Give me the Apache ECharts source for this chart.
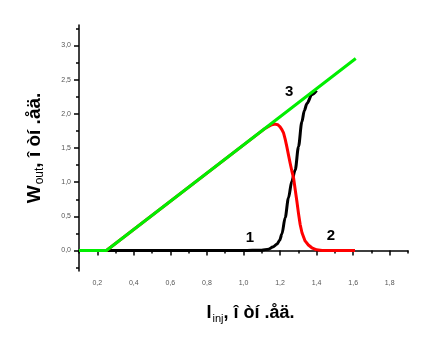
<!DOCTYPE html>
<html lang="en">
<head>
    <meta charset="UTF-8">
    <title>W_out vs I_inj</title>
    <script src="https://cdn.jsdelivr.net/npm/echarts@6/dist/echarts.min.js"></script>
    <style>
        body { margin: 0; background: #fff; }
    </style>
</head>
<body>
    <div id="main" style="width:432px;height:352px;"></div>
<script type="text/javascript">
    // curve 1 (black), curve 2 (red), curve 3 (green)
    var curve1 = [[0.1, 0], [1.0, 0], [1.1, 0.005], [1.137, 0.02], [1.16, 0.05], [1.182, 0.09],
        [1.198, 0.15], [1.21, 0.24], [1.228, 0.48], [1.246, 0.77], [1.264, 1.01], [1.283, 1.18],
        [1.301, 1.52], [1.319, 1.88], [1.333, 2.05], [1.347, 2.15], [1.374, 2.28], [1.40, 2.34]];
    var curve2 = [[0.1, 0], [0.25, 0], [1.12, 1.79], [1.14, 1.82], [1.155, 1.84], [1.173, 1.85],
        [1.188, 1.84], [1.2, 1.81], [1.21, 1.77], [1.219, 1.72], [1.228, 1.63], [1.237, 1.52],
        [1.246, 1.40], [1.255, 1.28], [1.264, 1.17], [1.274, 1.06], [1.283, 0.89], [1.292, 0.72],
        [1.301, 0.54], [1.31, 0.38], [1.32, 0.26], [1.337, 0.14], [1.355, 0.08], [1.374, 0.04],
        [1.4, 0.01], [1.43, 0], [1.61, 0]];
    var curve3 = [[0.1, 0], [0.25, 0], [1.614, 2.81]];

    // curve numbers and where they sit
    var curveTags = ['1', '2', '3'];
    var tagPos = [[1.035, 0.19], [1.478, 0.21], [1.25, 2.32]];

    var xMajor = [0.2, 0.4, 0.6, 0.8, 1.0, 1.2, 1.4, 1.6, 1.8];
    var xMinor = [0.1, 0.3, 0.5, 0.7, 0.9, 1.1, 1.3, 1.5, 1.7, 1.9];
    var yMajor = [0.0, 0.5, 1.0, 1.5, 2.0, 2.5, 3.0];
    var yMinor = [-0.25, 0.25, 0.75, 1.25, 1.75, 2.25, 2.75, 3.25];

    function comma(v) {
        return v.toFixed(1).replace('.', ',');
    }

    var myChart = echarts.init(document.getElementById('main'));

    var tickLabel = { fontSize: 7, color: '#555', fontFamily: 'Liberation Sans, Arial, sans-serif' };
    var nameFont = 'Liberation Sans, Arial, sans-serif';

    var option = {
        animation: false,
        grid: { left: 79, right: 24, top: 25, bottom: 81 },
        xAxis: [
            {
                type: 'value', min: 0.1, max: 1.9,
                axisLine: { lineStyle: { color: '#000', width: 1.5 } },
                axisTick: { customValues: xMajor, length: 5, lineStyle: { color: '#000', width: 1.5 } },
                axisLabel: Object.assign({ customValues: xMajor, margin: 9, formatter: comma }, tickLabel),
                splitLine: { show: false },
                name: '{b|I}{s|inj}{b|, î òí .åä.}',
                nameLocation: 'middle',
                nameGap: 32,
                nameTextStyle: {
                    padding: [0, 0, 0, 14],
                    rich: {
                        b: { fontSize: 18, fontWeight: 'bold', color: '#000', fontFamily: nameFont },
                        s: { fontSize: 11, color: '#000', fontFamily: nameFont, padding: [10, 0, 0, 1] }
                    }
                }
            },
            {
                type: 'value', min: 0.1, max: 1.9, position: 'bottom',
                axisLine: { show: false },
                axisTick: { customValues: xMinor, length: 3, lineStyle: { color: '#000', width: 1.5 } },
                axisLabel: { show: false },
                splitLine: { show: false }
            }
        ],
        yAxis: [
            {
                type: 'value', min: -0.3, max: 3.3,
                axisLine: { show: true, lineStyle: { color: '#000', width: 1.5 } },
                axisTick: { show: true, customValues: yMajor, length: 5, lineStyle: { color: '#000', width: 1.5 } },
                axisLabel: Object.assign({ customValues: yMajor, margin: 8, formatter: comma }, tickLabel),
                splitLine: { show: false },
                name: '{b|W}{s|out}{b|, î òí .åä.}',
                nameLocation: 'middle',
                nameGap: 33,
                nameRotate: 90,
                nameTextStyle: {
                    rich: {
                        b: { fontSize: 19, fontWeight: 'bold', color: '#000', fontFamily: nameFont },
                        s: { fontSize: 12, color: '#000', fontFamily: nameFont, padding: [11, 0, 0, 1] }
                    }
                }
            },
            {
                type: 'value', min: -0.3, max: 3.3, position: 'left',
                axisLine: { show: false },
                axisTick: { show: true, customValues: yMinor, length: 3, lineStyle: { color: '#000', width: 1.5 } },
                axisLabel: { show: false },
                splitLine: { show: false }
            }
        ],
        series: [
            {
                name: '1', type: 'line', data: curve1, showSymbol: false,
                smooth: 0.3, smoothMonotone: 'x',
                lineStyle: { color: '#000', width: 3 },
                markPoint: {
                    symbol: 'circle', symbolSize: 0,
                    label: { show: true, color: '#000', fontSize: 15, fontWeight: 'bold', fontFamily: nameFont, formatter: function (p) { return p.name; } },
                    data: curveTags.map(function (t, i) { return { name: t, coord: tagPos[i] }; })
                }
            },
            {
                name: '2', type: 'line', data: curve2, showSymbol: false,
                lineStyle: { color: '#ff0000', width: 3, join: 'round' }
            },
            {
                name: '3', type: 'line', data: curve3, showSymbol: false,
                lineStyle: { color: '#00ee00', width: 3 }
            }
        ]
    };

    myChart.setOption(option);
</script>
</body>
</html>
